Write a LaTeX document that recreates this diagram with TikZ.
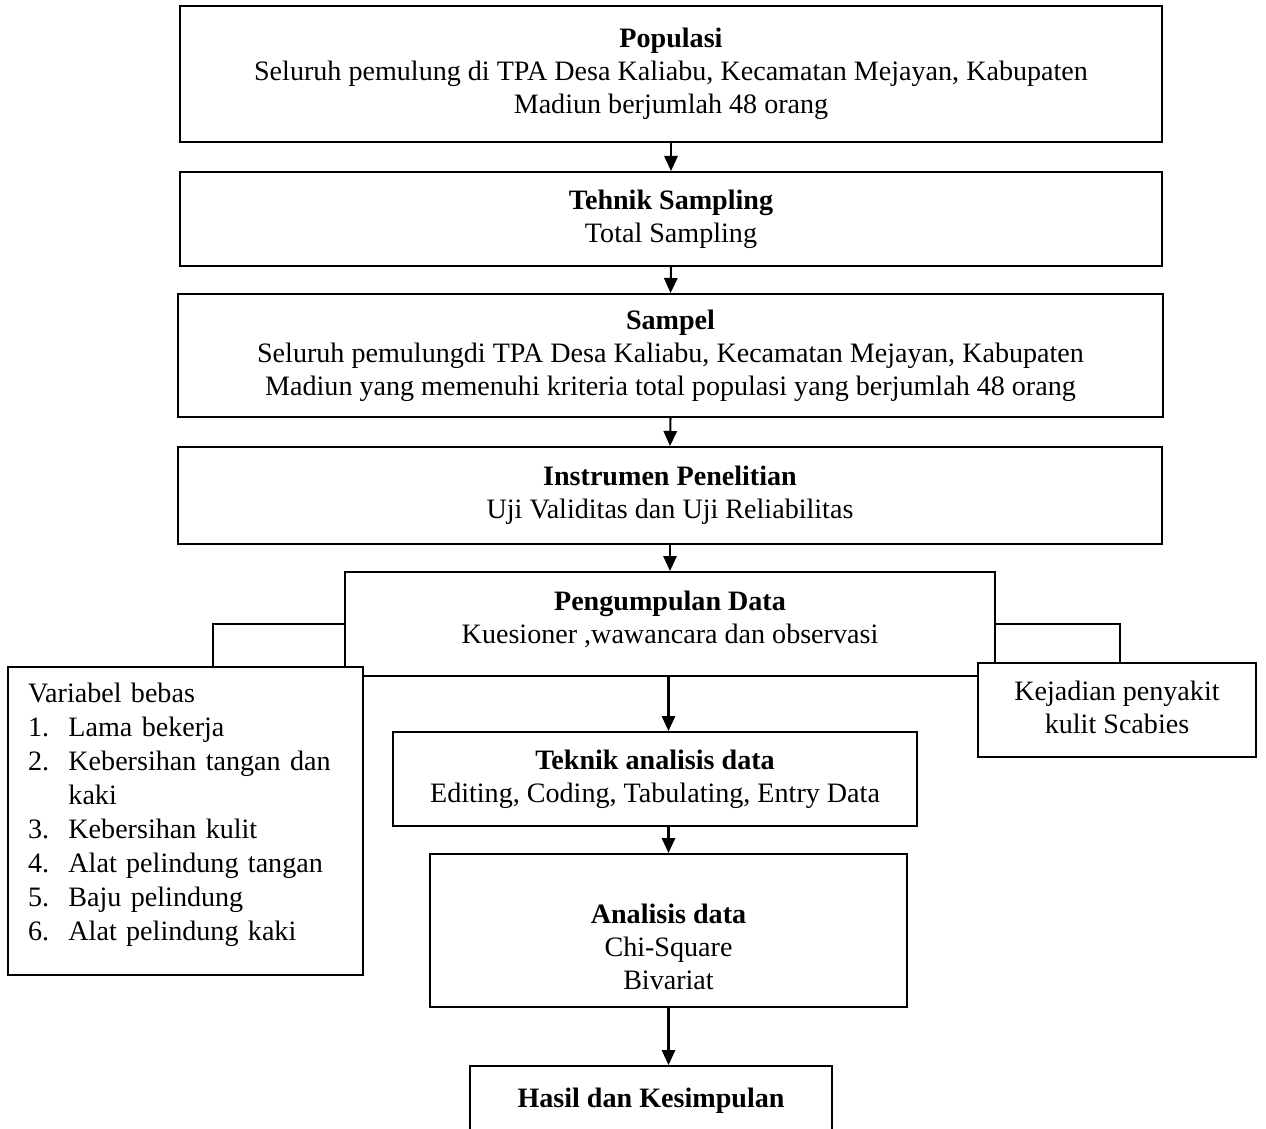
\documentclass[tikz,border=0pt]{standalone}
\usepackage{fontspec}
\setmainfont{Liberation Serif}
\usetikzlibrary{arrows.meta,calc}
\definecolor{LineClr}{rgb}{0,0,0}

\tikzset{
  box/.style 2 args={draw=LineClr,line width=0.85pt,fill=white,align=center,
    minimum width=#1*0.42pt,minimum height=#2*0.42pt,inner sep=2pt,
    font=\fontsize{11.8}{13.9}\selectfont},
  arr/.style={draw=LineClr,line width=0.85pt,-{Triangle[length=6.3pt,width=5.6pt]}},
  link/.style={draw=LineClr,line width=0.85pt}
}

\begin{document}
\begin{tikzpicture}[x=0.42pt,y=-0.42pt]
\useasboundingbox (0,0) rectangle (1266,1128);

\node[box={982}{136}] (pop) at (671,74)
  {\textbf{Populasi}\\Seluruh pemulung di TPA Desa Kaliabu, Kecamatan Mejayan, Kabupaten\\Madiun berjumlah 48 orang};
\node[box={982}{94}] (tsamp) at (671,219)
  {\textbf{Tehnik Sampling}\\Total Sampling};
\node[box={985}{123}] (samp) at (670.5,355.5)
  {\textbf{Sampel}\\Seluruh pemulungdi TPA Desa Kaliabu, Kecamatan Mejayan, Kabupaten\\Madiun yang memenuhi kriteria total populasi yang berjumlah 48 orang};
\node[box={984}{97}] (instr) at (670,495.5)
  {\textbf{Instrumen Penelitian}\\Uji Validitas dan Uji Reliabilitas};
\node[box={650}{104}] (kumpul) at (670,624)
  {\textbf{Pengumpulan Data}\\Kuesioner ,wawancara dan observasi\rule[-6pt]{0pt}{0pt}};

\node[box={355}{308},align=left,text width=315*0.42pt,inner xsep=20*0.42pt,
  font=\fontsize{11.8}{14.3}\selectfont] (varbebas) at (185.5,821)
  {Variabel bebas\\
   \makebox[17pt][l]{1.}Lama bekerja\\
   \makebox[17pt][l]{2.}Kebersihan tangan dan\\
   \hspace*{17pt}kaki\\
   \makebox[17pt][l]{3.}Kebersihan kulit\\
   \makebox[17pt][l]{4.}Alat pelindung tangan\\
   \makebox[17pt][l]{5.}Baju pelindung\\
   \makebox[17pt][l]{6.}Alat pelindung kaki\rule[-8pt]{0pt}{0pt}};
\node[box={278}{94}] (scabies) at (1117,710)
  {Kejadian penyakit\\kulit Scabies\rule[-2pt]{0pt}{0pt}};

\node[box={524}{94}] (teknik) at (655,779)
  {\textbf{Teknik analisis data}\\Editing, Coding, Tabulating, Entry Data};
\node[box={477}{153}] (analisis) at (668.5,930.5)
  {\rule{0pt}{22pt}\textbf{Analisis data}\\Chi-Square\\Bivariat};
\node[box={362}{70}] (hasil) at (651,1101)
  {\textbf{Hasil dan Kesimpulan}\rule[-2pt]{0pt}{0pt}};

\coordinate (varin) at (213,667);
\coordinate (scin) at (1120,663);

\draw[arr] (pop.south) -- (tsamp.north);
\draw[arr] (tsamp.south) -- (samp.north);
\draw[arr] (samp.south) -- (instr.north);
\draw[arr] (instr.south) -- (kumpul.north);
\draw[arr] (kumpul.south -| analisis.north) -- (teknik.north -| analisis.north);
\draw[arr] (teknik.south -| analisis.north) -- (analisis.north);
\draw[arr] (analisis.south) -- (hasil.north -| analisis.south);

\draw[link] (kumpul.west) -| (varin);
\draw[link] (kumpul.east) -| (scin);

\end{tikzpicture}
\end{document}
